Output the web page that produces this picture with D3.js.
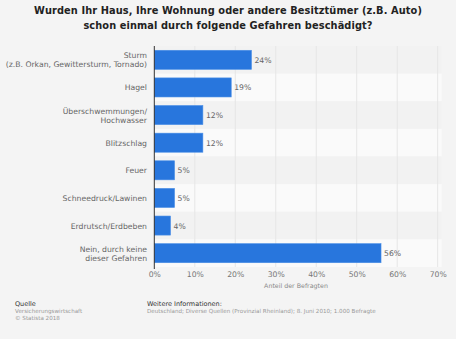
<!DOCTYPE html>
<html>
<head>
<meta charset="utf-8">
<script src="https://d3js.org/d3.v7.min.js"></script>
<style>
  body { margin: 0; background: #f4f4f4; }
  text { font-family: "DejaVu Sans", sans-serif; }
</style>
</head>
<body>
<script>
// data
const categories = [
  ["Sturm", "(z.B. Orkan, Gewittersturm, Tornado)"],
  ["Hagel"],
  ["Überschwemmungen/", "Hochwasser"],
  ["Blitzschlag"],
  ["Feuer"],
  ["Schneedruck/Lawinen"],
  ["Erdrutsch/Erdbeben"],
  ["Nein, durch keine", "dieser Gefahren"]
];
const values = [24, 19, 12, 12, 5, 5, 4, 56];
const ticks = [0, 10, 20, 30, 40, 50, 60, 70];

const width = 456, height = 339;
const svg = d3.select("body").append("svg")
  .attr("width", width).attr("height", height);

svg.append("rect").attr("width", width).attr("height", height).attr("fill", "#f4f4f4");

// title
const title = ["Wurden Ihr Haus, Ihre Wohnung oder andere Besitztümer (z.B. Auto)",
               "schon einmal durch folgende Gefahren beschädigt?"];
svg.selectAll(".title").data(title).enter().append("text")
  .attr("x", 228).attr("y", (d, i) => 14 + i * 15)
  .attr("text-anchor", "middle")
  .attr("font-size", "9.8px").attr("font-weight", "bold")
  .attr("letter-spacing", "0.1px")
  .attr("fill", "#222")
  .text(d => d);

const x = d3.scaleLinear().domain([0, 70]).range([154.3, 437.7]);
const y = d3.scaleBand().domain(d3.range(categories.length))
  .range([46, 267]).paddingInner(0.31).paddingOuter(0.155);

// row stripes
svg.selectAll(".stripe").data(d3.range(categories.length)).enter().append("rect")
  .attr("x", x(0)).attr("width", x(70) - x(0) + 4)
  .attr("y", i => y(i) - y.step() * y.paddingInner() / 2)
  .attr("height", y.step())
  .attr("fill", i => i % 2 ? "#fafafa" : "#f2f2f2");

// gridlines
svg.selectAll(".grid").data(ticks.slice(1)).enter().append("line")
  .attr("x1", d => x(d)).attr("x2", d => x(d))
  .attr("y1", 46).attr("y2", 267)
  .attr("stroke", "#e6e6e6").attr("stroke-width", 1);

// bars
svg.selectAll(".bar").data(values).enter().append("rect")
  .attr("x", x(0))
  .attr("y", (d, i) => y(i))
  .attr("width", d => x(d) - x(0))
  .attr("height", y.bandwidth())
  .attr("fill", "#2876dd")
  .attr("stroke", "#4a8ee6").attr("stroke-width", 0.6);

// value labels
svg.selectAll(".val").data(values).enter().append("text")
  .attr("x", d => x(d) + 3)
  .attr("y", (d, i) => y(i) + y.bandwidth() / 2 + 3)
  .attr("font-size", "7.7px").attr("fill", "#666")
  .text(d => d + "%");

// category labels
categories.forEach((lines, i) => {
  const cy = y(i) + y.bandwidth() / 2;
  svg.append("text")
    .attr("x", 147).attr("text-anchor", "end")
    .attr("font-size", "7.7px").attr("fill", "#666")
    .selectAll("tspan").data(lines).enter().append("tspan")
    .attr("x", 147)
    .attr("y", (d, j) => cy + 3 + (j - (lines.length - 1) / 2) * 9)
    .text(d => d);
});

// axis
const xAxis = d3.axisBottom(x).tickValues(ticks).tickFormat(d => d + "%").tickSize(0);
const ax = svg.append("g").attr("transform", "translate(0,267)").call(xAxis);
ax.select(".domain").remove();
ax.selectAll("text").attr("font-size", "7.7px").attr("fill", "#777")
  .attr("dy", "0").attr("y", 10).style("font-family", "DejaVu Sans");

svg.append("line").attr("x1", x(0)).attr("x2", x(0))
  .attr("y1", 46).attr("y2", 269)
  .attr("stroke", "#333").attr("stroke-width", 1);

svg.append("text").attr("x", 296).attr("y", 288)
  .attr("text-anchor", "middle").attr("font-size", "6.3px").attr("fill", "#888")
  .text("Anteil der Befragten");

// footer
svg.append("text").attr("x", 15).attr("y", 306).attr("font-size", "6.5px").attr("fill", "#333").text("Quelle");
svg.append("text").attr("x", 15).attr("y", 313).attr("font-size", "5.6px").attr("fill", "#999").text("Versicherungswirtschaft");
svg.append("text").attr("x", 15).attr("y", 320).attr("font-size", "5.6px").attr("fill", "#999").text("© Statista 2018");
svg.append("text").attr("x", 147).attr("y", 306).attr("font-size", "6.5px").attr("fill", "#333").text("Weitere Informationen:");
svg.append("text").attr("x", 147).attr("y", 313).attr("font-size", "5.6px").attr("fill", "#999")
  .text("Deutschland; Diverse Quellen (Provinzial Rheinland); 8. Juni 2010; 1.000 Befragte");
</script>
</body>
</html>
